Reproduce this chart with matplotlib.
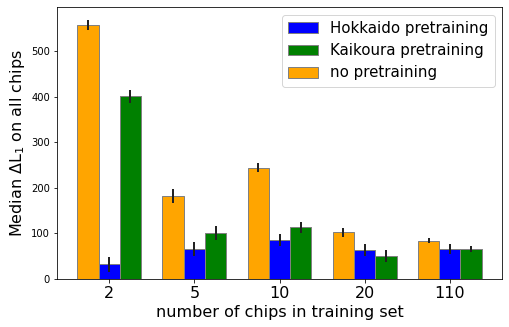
import matplotlib
matplotlib.use("Agg")
import matplotlib.pyplot as plt
import numpy as np

# chips in training set
n_chips = ["2", "5", "10", "20", "110"]

# median Delta L1 values
no_pre = [558, 183, 244, 103, 84]
no_pre_err = [11, 15, 10, 10, 5]
hokkaido = [32, 66, 86, 64, 66]
hokkaido_err = [17, 16, 13, 13, 10]
kaikoura = [401, 101, 114, 51, 66]
kaikoura_err = [14, 16, 12, 13, 6]

x = np.arange(len(n_chips))
w = 0.25

fig = plt.figure(figsize=(509 / 72, 327 / 72), dpi=72)
ax = fig.add_axes([57 / 509, 1 - 279 / 327, (502 - 57) / 509, (279 - 7) / 327])

err_kw = dict(ecolor="#222222", elinewidth=2, capsize=0)
ax.bar(x, hokkaido, w, yerr=hokkaido_err, color="blue", edgecolor="grey",
       label="Hokkaido pretraining", error_kw=err_kw)
ax.bar(x + w, kaikoura, w, yerr=kaikoura_err, color="green", edgecolor="grey",
       label="Kaikoura pretraining", error_kw=err_kw)
ax.bar(x - w, no_pre, w, yerr=no_pre_err, color="orange", edgecolor="grey",
       label="no pretraining", error_kw=err_kw)

ax.set_xticks(x)
ax.set_xticklabels(n_chips, fontsize=16)
ax.tick_params(axis="y", labelsize=10)
ax.set_xlabel("number of chips in training set", fontsize=16)
ax.set_ylabel(r"Median $\Delta$L$_1$ on all chips", fontsize=16)
ax.legend(fontsize=15, loc="upper right")

fig.savefig("out.png", dpi=72)
